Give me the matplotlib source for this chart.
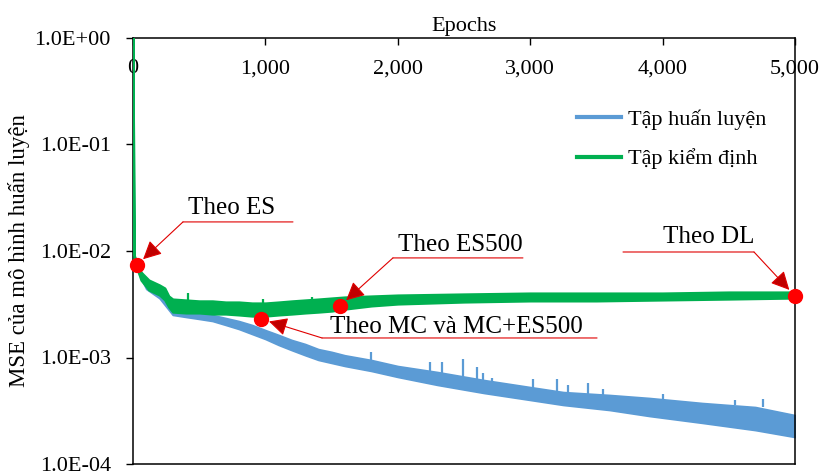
import numpy as np
import matplotlib
matplotlib.use("Agg")
import matplotlib.pyplot as plt
from matplotlib.lines import Line2D
from matplotlib.ticker import FixedLocator, FuncFormatter, NullLocator
from matplotlib.transforms import offset_copy

plt.rcParams["font.family"] = ["Liberation Serif", "DejaVu Serif"]

# noisy curves, kept as a lower / upper envelope
val_epochs = [0, 8, 30, 60, 120, 200, 240, 270, 300, 400, 500, 600, 700, 800,
              900, 1000, 1100, 1200, 1300, 1400, 1500, 1600, 1800, 2000, 2500,
              3000, 3500, 4000, 4500, 5000]
val_high = [1.0, 9.17e-3, 7.88e-3, 6.35e-3, 5.34e-3, 4.80e-3, 4.49e-3, 3.78e-3,
            3.54e-3, 3.47e-3, 3.40e-3, 3.40e-3, 3.32e-3, 3.32e-3, 3.25e-3,
            3.25e-3, 3.32e-3, 3.40e-3, 3.47e-3, 3.54e-3, 3.62e-3, 3.70e-3,
            3.78e-3, 3.86e-3, 3.95e-3, 4.03e-3, 4.03e-3, 4.03e-3, 4.12e-3, 4.12e-3]
val_low = [1.0, 7.88e-3, 6.92e-3, 5.34e-3, 4.30e-3, 3.86e-3, 3.47e-3, 2.98e-3,
           2.67e-3, 2.62e-3, 2.62e-3, 2.56e-3, 2.56e-3, 2.51e-3, 2.45e-3,
           2.45e-3, 2.51e-3, 2.56e-3, 2.62e-3, 2.67e-3, 2.73e-3, 2.85e-3,
           3.05e-3, 3.18e-3, 3.32e-3, 3.40e-3, 3.40e-3, 3.47e-3, 3.54e-3, 3.62e-3]

train_epochs = [0, 8, 30, 100, 200, 280, 300, 400, 500, 600, 700, 800, 900,
                1000, 1100, 1200, 1300, 1400, 1500, 1600, 1800, 2000, 2300,
                2650, 3000, 3250, 3600, 3900, 4300, 4700, 5000]
train_high = [1.0, 9.0e-3, 7.5e-3, 5.2e-3, 4.2e-3, 3.0e-3, 2.79e-3, 2.67e-3,
              2.56e-3, 2.51e-3, 2.35e-3, 2.20e-3, 2.02e-3, 1.81e-3, 1.63e-3,
              1.46e-3, 1.34e-3, 1.20e-3, 1.13e-3, 1.05e-3, 9.48e-4, 8.32e-4,
              7.31e-4, 6.15e-4, 5.28e-4, 4.74e-4, 4.45e-4, 4.17e-4, 3.74e-4,
              3.43e-4, 2.88e-4]
train_low = [1.0, 7.8e-3, 6.6e-3, 4.4e-3, 3.6e-3, 2.7e-3, 2.51e-3, 2.40e-3,
             2.30e-3, 2.20e-3, 2.02e-3, 1.85e-3, 1.66e-3, 1.49e-3, 1.31e-3,
             1.17e-3, 1.05e-3, 9.48e-4, 8.88e-4, 8.32e-4, 7.47e-4, 6.56e-4,
             5.52e-4, 4.64e-4, 3.99e-4, 3.58e-4, 3.21e-4, 2.82e-4, 2.43e-4,
             2.08e-4, 1.79e-4]

# single spikes sticking out of the bands
train_spike_epochs = [1798, 2243, 2334, 2493, 2598, 2644, 2710, 3021, 3202,
                      3286, 3437, 3550, 4003, 4547, 4758]
train_spike_base = [9.5e-4, 7.3e-4, 7.0e-4, 6.4e-4, 6.2e-4, 5.9e-4, 5.8e-4,
                    5.2e-4, 4.8e-4, 4.7e-4, 4.5e-4, 4.45e-4, 4.0e-4, 3.55e-4, 3.4e-4]
train_spike_top = [1.13e-3, 9.08e-4, 9.08e-4, 9.68e-4, 8.14e-4, 7.15e-4, 6.43e-4,
                   6.28e-4, 6.28e-4, 5.52e-4, 5.76e-4, 5.06e-4, 4.54e-4, 3.99e-4, 4.07e-4]
val_spike_epochs = [415, 982, 1352]
val_spike_base = [3.4e-3, 3.2e-3, 3.4e-3]
val_spike_top = [4.03e-3, 3.54e-3, 3.70e-3]

# stopping points
mark_labels = ["Theo ES", "Theo MC và MC+ES500", "Theo ES500", "Theo DL"]
mark_epochs = [30, 967, 1563, 5000]
mark_mse = [7.4e-3, 2.30e-3, 3.05e-3, 3.78e-3]

# callout layout, pixel offsets from the marker: elbow, underline end, text centre
callouts = {
    "Theo ES": ((46, 43), (156, 43), (95, 57)),
    "Theo MC và MC+ES500": ((61, -19), (336, -19), (195, -8)),
    "Theo ES500": ((53, 48), (183, 48), (120, 61)),
    "Theo DL": ((-41, 44), (-172, 44), (-86, 59)),
}

blue = "#5B9BD5"
green = "#00B050"
red = "#E00000"
DPI = 100
pt = 72 / DPI

fig = plt.figure(figsize=(8.21, 4.76), dpi=DPI)
ax = fig.add_axes([133 / 821, 12 / 476, 662 / 821, 426 / 476])

ax.fill_between(train_epochs, train_low, train_high, color=blue, lw=1.2, zorder=2)
ax.vlines(train_spike_epochs, train_spike_base, train_spike_top, color=blue, lw=1.6, zorder=2)
ax.fill_between(val_epochs, val_low, val_high, color=green, lw=1.6, zorder=3)
ax.vlines(val_spike_epochs, val_spike_base, val_spike_top, color=green, lw=1.6, zorder=3)

ax.plot(mark_epochs, mark_mse, "o", color="#FF0000", ms=10, zorder=6, clip_on=False)

for lab, x, y in zip(mark_labels, mark_epochs, mark_mse):
    (ex, ey), (ux, uy), (tx, ty) = callouts[lab]
    # diagonal leader with arrow head
    ax.annotate("", xy=(x, y), xytext=(ex * pt, ey * pt), textcoords="offset points",
                arrowprops=dict(arrowstyle="-|>,head_length=0.7,head_width=0.35",
                                edgecolor=red, facecolor="#C00000", lw=0.8,
                                shrinkA=0, shrinkB=6, mutation_scale=16),
                zorder=5, annotation_clip=False)
    # underline below the text
    t0 = offset_copy(ax.transData, fig=fig, x=ex, y=ey, units="dots")
    t1 = offset_copy(ax.transData, fig=fig, x=ux, y=uy, units="dots")
    ax.annotate("", xy=(x, y), xycoords=t1, xytext=(x, y), textcoords=t0,
                arrowprops=dict(arrowstyle="-", color=red, lw=0.8, shrinkA=0, shrinkB=0),
                zorder=5, annotation_clip=False)
    ax.annotate(lab, xy=(x, y), xytext=(tx * pt, ty * pt), textcoords="offset points",
                ha="center", va="center", fontsize=18, zorder=5, annotation_clip=False)

ax.set_xlim(0, 5000)
ax.set_yscale("log")
ax.set_ylim(1e-4, 1)

ax.xaxis.set_major_locator(FixedLocator([0, 1000, 2000, 3000, 4000, 5000]))
ax.xaxis.set_major_formatter(FuncFormatter(lambda v, p: f"{int(v):,}"))
ax.yaxis.set_major_locator(FixedLocator([1e-4, 1e-3, 1e-2, 1e-1, 1]))
ax.yaxis.set_major_formatter(FuncFormatter(lambda v, p: f"{v:.1E}"))
ax.yaxis.set_minor_locator(NullLocator())

ax.tick_params(axis="x", top=True, bottom=False, labeltop=True, labelbottom=False,
               direction="in", length=5, width=1, pad=-29, labelsize=16)
ax.tick_params(axis="y", left=True, right=False, direction="out", length=5,
               width=1, pad=11, labelsize=16)
ax.xaxis.set_label_position("top")
ax.set_xlabel("Epochs", fontsize=16, labelpad=5)
ax.set_ylabel("MSE của mô hình huấn luyện", fontsize=16.5, labelpad=3)

for s in ax.spines.values():
    s.set_linewidth(1.1)
    s.set_color("black")

handles = [Line2D([], [], color=blue, lw=3), Line2D([], [], color=green, lw=3)]
fig.legend(handles, ["Tập huấn luyện", "Tập kiểm định"], loc="upper left",
           bbox_to_anchor=(577 / 821, 1 - 109 / 476), frameon=False, fontsize=16,
           borderpad=0, borderaxespad=0, handlelength=2.0, handletextpad=0.3,
           labelspacing=0.85)

fig.savefig("out.png", dpi=DPI)
